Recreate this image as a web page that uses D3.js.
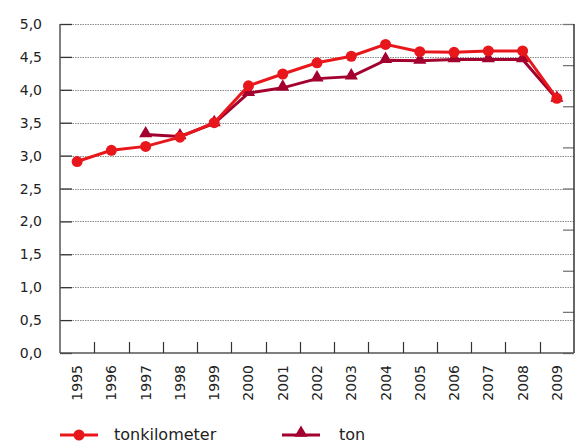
<!DOCTYPE html>
<html><head><meta charset="utf-8">
<script src="https://cdn.jsdelivr.net/npm/d3@7"></script>
<style>body{margin:0;background:#fff}svg{display:block}</style>
</head><body>
<script>
const years = ["1995","1996","1997","1998","1999","2000","2001","2002","2003","2004","2005","2006","2007","2008","2009"];
const tonkilometer = [2.91,3.08,3.14,3.28,3.50,4.06,4.24,4.41,4.51,4.69,4.58,4.57,4.59,4.59,3.87];
const ton = [null,null,3.32,3.29,3.49,3.95,4.03,4.17,4.20,4.45,4.44,4.46,4.46,4.46,3.86];
const yTicks = [0,0.5,1,1.5,2,2.5,3,3.5,4,4.5,5];
const rightTicks = [0,1,2,3,4,5,6,7,8];
const seriesNames = ["tonkilometer","ton"];

const W=576,H=444;
const L=60,R=574,T=24,B=353;
const red="#e8171c", dark="#a3002f", txt="#222", font="'DejaVu Sans', sans-serif";
const svg=d3.select("body").append("svg").attr("width",W).attr("height",H);
const x=d3.scaleBand().domain(years).range([L,R]);
const y=d3.scaleLinear().domain([0,5]).range([B,T]);
const y2=d3.scaleLinear().domain([0,8]).range([B,T]);

// grid
svg.append("g").selectAll("line").data(yTicks.filter(d=>d>0)).join("line")
 .attr("x1",L).attr("x2",R).attr("y1",d=>Math.round(y(d))+0.5).attr("y2",d=>Math.round(y(d))+0.5)
 .attr("stroke","#8a8a8a").attr("stroke-width",1).attr("stroke-dasharray","1.5,1");

// left axis
const la=svg.append("g").attr("transform",`translate(${L},0)`)
 .call(d3.axisRight(y).tickValues(yTicks).tickSize(12).tickFormat(""));
la.select(".domain").remove();
la.selectAll("line").attr("stroke","#333").attr("stroke-width",1.3);
svg.append("line").attr("x1",L).attr("x2",L).attr("y1",T).attr("y2",B).attr("stroke","#555").attr("stroke-width",1.5);
svg.append("g").selectAll("text").data(yTicks).join("text")
 .attr("x",42).attr("y",d=>y(d)+5).attr("text-anchor","end")
 .attr("font-family",font).attr("font-size",14).attr("fill",txt)
 .text(d=>d3.format(".1f")(d).replace(".",","));

// right axis
const ra=svg.append("g").attr("transform",`translate(${R},0)`)
 .call(d3.axisLeft(y2).tickValues(rightTicks).tickSize(11).tickFormat(""));
ra.select(".domain").remove();
ra.selectAll("line").attr("stroke","#777").attr("stroke-width",1.3);
svg.append("line").attr("x1",R).attr("x2",R).attr("y1",T).attr("y2",B).attr("stroke","#333").attr("stroke-width",1.5);

// bottom axis
svg.append("line").attr("x1",L).attr("x2",R).attr("y1",B).attr("y2",B).attr("stroke","#555").attr("stroke-width",1.5);
svg.append("g").selectAll("line").data(years.slice(1)).join("line")
 .attr("x1",d=>Math.round(x(d))+0.5).attr("x2",d=>Math.round(x(d))+0.5).attr("y1",B).attr("y2",B-11)
 .attr("stroke","#333").attr("stroke-width",1.2);
svg.append("g").selectAll("text").data(years).join("text")
 .attr("transform",d=>`translate(${x(d)+x.bandwidth()/2+5},365) rotate(-90)`)
 .attr("text-anchor","end").attr("font-family",font).attr("font-size",14).attr("fill",txt).text(d=>d);

const cx=d=>x(d)+x.bandwidth()/2;
const tri=d3.symbol().type(d3.symbolTriangle).size(75);

// ton
const tonData=years.map((d,i)=>({k:d,v:ton[i]})).filter(d=>d.v!=null);
svg.append("path").datum(tonData).attr("fill","none").attr("stroke",dark).attr("stroke-width",3)
 .attr("d",d3.line().x(d=>cx(d.k)).y(d=>y(d.v)));
svg.append("g").selectAll("path").data(tonData).join("path")
 .attr("d",tri).attr("transform",d=>`translate(${cx(d.k)},${y(d.v)-1})`).attr("fill",dark);

// tonkilometer
const tkData=years.map((d,i)=>({k:d,v:tonkilometer[i]}));
svg.append("path").datum(tkData).attr("fill","none").attr("stroke",red).attr("stroke-width",3)
 .attr("d",d3.line().x(d=>cx(d.k)).y(d=>y(d.v)));
svg.append("g").selectAll("circle").data(tkData).join("circle")
 .attr("cx",d=>cx(d.k)).attr("cy",d=>y(d.v)).attr("r",5.5).attr("fill",red);

// legend
const ly=435;
const lg=[{name:seriesNames[0],x0:60,col:red,m:"c",tx:114},{name:seriesNames[1],x0:282,col:dark,m:"t",tx:339}];
lg.forEach(o=>{
 svg.append("line").attr("x1",o.x0).attr("x2",o.x0+38).attr("y1",ly).attr("y2",ly).attr("stroke",o.col).attr("stroke-width",3);
 if(o.m==="c") svg.append("circle").attr("cx",o.x0+19).attr("cy",ly).attr("r",5.5).attr("fill",o.col);
 else svg.append("path").attr("d",tri).attr("transform",`translate(${o.x0+19},${ly-2})`).attr("fill",o.col);
 svg.append("text").attr("x",o.tx).attr("y",ly+5).attr("font-family",font).attr("font-size",16).attr("fill",txt).text(o.name);
});
</script>
</body></html>
